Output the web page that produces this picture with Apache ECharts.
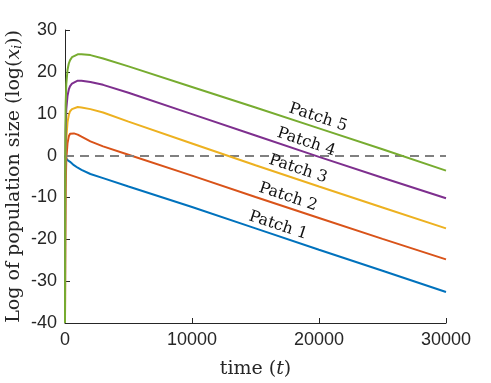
<!DOCTYPE html>
<html>
<head>
<meta charset="utf-8">
<script src="https://cdn.jsdelivr.net/npm/echarts@6/dist/echarts.min.js"></script>
<style>
  html, body { margin: 0; padding: 0; background: #fff; }
  #chart { width: 491px; height: 383px; }
</style>
</head>
<body>
<div id="chart"></div>
<script>
// time points (shared by all patches)
const times = [0, 20, 50, 100, 200, 300, 400, 550, 700, 1000, 1300, 2000, 3000, 5000, 10000, 15000, 20000, 25000, 30000];

// log population size per patch
const patch1 = [0, -0.3, -0.5, -0.8, -1.1, -1.3, -1.5, -1.9, -2.3, -2.9, -3.4, -4.4, -5.4, -7.4, -12.3, -17.4, -22.5, -27.5, -32.6];
const patch2 = [-40, -20, -8, -1, 3, 4.6, 5.2, 5.4, 5.3, 5.0, 4.5, 3.4, 2.2, 0.2, -4.8, -9.9, -14.9, -19.9, -24.8];
const patch3 = [-40, -12, -1, 4, 8, 9.7, 10.6, 11.1, 11.4, 11.6, 11.5, 11.1, 10.3, 8.1, 2.9, -2.3, -7.4, -12.4, -17.4];
const patch4 = [-40, -5, 6, 11, 14.3, 15.8, 16.6, 17.2, 17.6, 17.9, 17.9, 17.6, 16.9, 15.0, 9.9, 4.8, -0.3, -5.3, -10.2];
const patch5 = [-40, 0, 12, 17, 20.5, 22.0, 22.8, 23.5, 23.9, 24.2, 24.2, 24.0, 23.2, 21.3, 16.4, 11.5, 6.5, 1.5, -3.6];

const patchNames = ['Patch 1', 'Patch 2', 'Patch 3', 'Patch 4', 'Patch 5'];
const patchColors = ['#0072BD', '#D95319', '#EDB120', '#7E2F8E', '#77AC30'];
// where the in-plot labels sit (data coords)
const labelX = [16780, 17560, 18350, 19000, 19920];
const labelY = [-16.7, -9.9, -3.2, 3.2, 9.1];

const xTicks = [0, 10000, 20000, 30000];
const yTicks = [-40, -30, -20, -10, 0, 10, 20, 30];

const textColor = '#262626';
const serif = '"DejaVu Serif", serif';

const chart = echarts.init(document.getElementById('chart'));

const allPatches = [patch1, patch2, patch3, patch4, patch5];
const series = allPatches.map((vals, i) => ({
  name: patchNames[i],
  type: 'line',
  data: times.map((t, k) => [t, vals[k]]),
  showSymbol: false,
  symbol: 'none',
  smooth: false,
  lineStyle: { color: patchColors[i], width: 2 },
  z: 3 + i
}));

// dashed zero line
series.push({
  type: 'line',
  data: [],
  z: 10,
  markLine: {
    silent: true,
    symbol: 'none',
    label: { show: false },
    lineStyle: { color: '#808080', type: [9, 6], width: 2 },
    data: [{ yAxis: 0 }]
  }
});

const axisCommon = {
  axisLine: { show: true, onZero: false, lineStyle: { color: textColor, width: 1 } },
  axisTick: { show: true, inside: true, length: 5, lineStyle: { color: textColor } },
  splitLine: { show: false },
  nameMoveOverlap: false,
  axisLabel: {
    color: textColor, fontSize: 18, margin: 8,
    fontFamily: 'Liberation Sans, Arial, sans-serif',
    formatter: v => String(v)
  }
};

const option = {
  animation: false,
  grid: { left: 65, right: 45, top: 30, bottom: 60, containLabel: false, outerBoundsMode: 'none' },
  xAxis: Object.assign({}, axisCommon, {
    type: 'value',
    min: xTicks[0],
    max: xTicks[xTicks.length - 1],
    interval: 10000,
    name: '{a|time (}{b|t}{a|)}',
    nameLocation: 'middle',
    nameGap: 37,
    nameTextStyle: {
      rich: {
        a: { fontFamily: serif, fontSize: 19, color: textColor },
        b: { fontFamily: serif, fontSize: 19, fontStyle: 'italic', color: textColor }
      }
    }
  }),
  yAxis: Object.assign({}, axisCommon, {
    type: 'value',
    min: yTicks[0],
    max: yTicks[yTicks.length - 1],
    interval: 10,
    name: '{a|Log of population size (log(}{b|x}{s|i}{a|))}',
    nameLocation: 'middle',
    nameRotate: 90,
    nameGap: 41,
    nameTextStyle: {
      rich: {
        a: { fontFamily: serif, fontSize: 19, color: textColor },
        b: { fontFamily: serif, fontSize: 19, fontStyle: 'italic', color: textColor },
        s: { fontFamily: serif, fontSize: 12, fontStyle: 'italic', color: textColor, verticalAlign: 'bottom', padding: [8, 0, 0, 0] }
      }
    }
  }),
  series: series
};

chart.setOption(option);

// rotated patch labels, placed through the chart's own scales
const angle = -18.3 * Math.PI / 180;
const graphics = patchNames.map((name, i) => {
  const p = chart.convertToPixel({ gridIndex: 0 }, [labelX[i], labelY[i]]);
  return {
    type: 'text',
    x: p[0],
    y: p[1],
    rotation: angle,
    z: 20,
    style: {
      text: name,
      fontFamily: serif,
      fontSize: 16,
      fill: '#111',
      align: 'center',
      verticalAlign: 'middle'
    }
  };
});
chart.setOption({ graphic: graphics });
</script>
</body>
</html>
